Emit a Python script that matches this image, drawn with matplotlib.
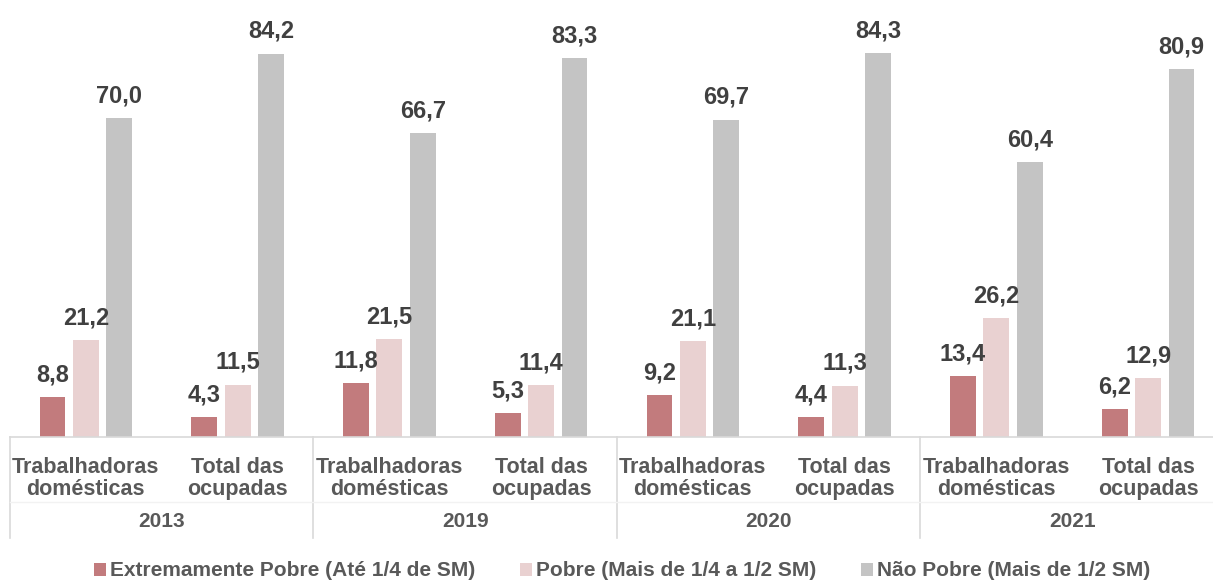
import numpy as np
import matplotlib.pyplot as plt
import matplotlib.transforms as mtransforms

plt.rcParams['font.family'] = ['Liberation Sans', 'DejaVu Sans']
plt.rcParams['font.weight'] = 'bold'

anos = ['2013', '2019', '2020', '2021']
grupos = ['Trabalhadoras\ndomésticas', 'Total das\nocupadas']
series = ['Extremamente Pobre (Até 1/4 de SM)',
          'Pobre (Mais de 1/4 a 1/2 SM)',
          'Não Pobre (Mais de 1/2 SM)']
extremamente = [8.8, 4.3, 11.8, 5.3, 9.2, 4.4, 13.4, 6.2]
pobre = [21.2, 11.5, 21.5, 11.4, 21.1, 11.3, 26.2, 12.9]
nao_pobre = [70.0, 84.2, 66.7, 83.3, 69.7, 84.3, 60.4, 80.9]
cores = ['#c27b7d', '#e9d1d1', '#c4c4c4']

fig = plt.figure(figsize=(12.13, 5.81), dpi=100)
# the plot area runs slightly past the right edge, as in the original
ax = fig.add_axes([10 / 1213, 144 / 581, 1214 / 1213, 437 / 581])

x = np.arange(len(extremamente)) + 0.5
w = 0.171
off = 0.22
valores = [extremamente, pobre, nao_pobre]
for k, (vals, cor, nome) in enumerate(zip(valores, cores, series)):
    pos = x + (k - 1) * off
    ax.bar(pos, vals, width=w, color=cor, label=nome)
    for xi, v in zip(pos, vals):
        ax.annotate(f'{v:.1f}'.replace('.', ','), (xi, v), xytext=(0, 16),
                    textcoords='offset points', ha='center', va='center',
                    fontsize=17, fontweight='bold', color='#404040')

ax.set_xlim(0, 8)
ax.set_ylim(0, 96)
ax.set_yticks([])
ax.set_xticks([])
for s in ['top', 'right', 'left']:
    ax.spines[s].set_visible(False)
ax.spines['bottom'].set_color('#d9d9d9')
ax.spines['bottom'].set_linewidth(1.2)

trans = mtransforms.blended_transform_factory(ax.transData, ax.transAxes)
for i in range(len(anos) + 1):
    ax.plot([2 * i, 2 * i], [0, -0.231], transform=trans, color='#d9d9d9',
            lw=1.2, clip_on=False)
ax.plot([0, 8], [-0.149, -0.149], transform=trans, color='#f2f2f2',
        lw=1, clip_on=False)

for j, xi in enumerate(x):
    ax.text(xi, -0.095, grupos[j % 2], transform=trans, ha='center',
            va='center', fontsize=15.5, fontweight='bold', color='#595959',
            linespacing=1.1)
for i, ano in enumerate(anos):
    ax.text(2 * i + 1, -0.1945, ano, transform=trans, ha='center',
            va='center', fontsize=15, fontweight='bold', color='#595959')

leg = fig.legend(loc='center', bbox_to_anchor=(622 / 1213, 10 / 581), ncol=3,
                 frameon=False, handlelength=0.57, handleheight=0.57,
                 handletextpad=0.2, columnspacing=2.15, borderpad=0,
                 prop={'size': 15, 'weight': 'bold'})
for t in leg.get_texts():
    t.set_color('#595959')

fig.savefig('out.png', dpi=100)
